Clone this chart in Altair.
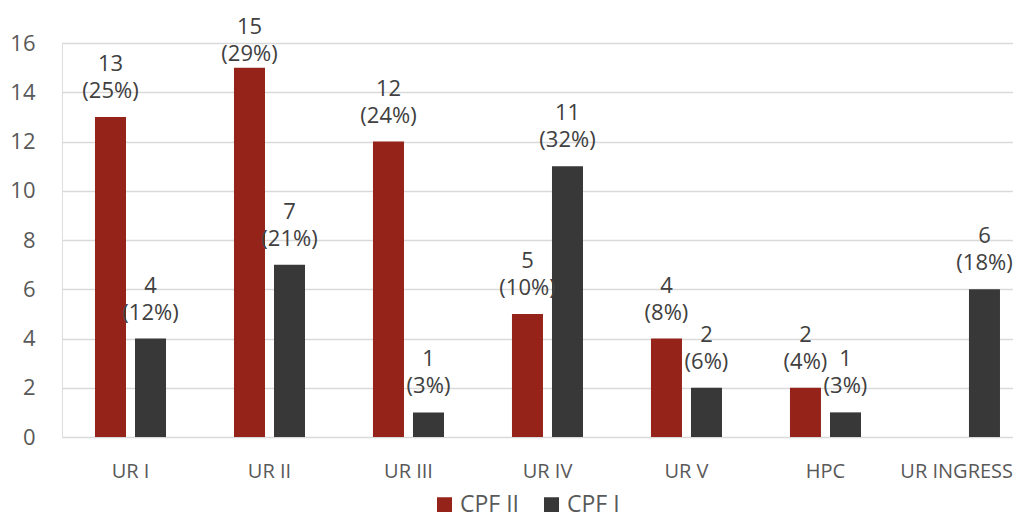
import altair as alt
import pandas as pd

categories = ["UR I", "UR II", "UR III", "UR IV", "UR V", "HPC", "UR INGRESSO"]
series = ["CPF II", "CPF I"]
cpf2_values = [13, 15, 12, 5, 4, 2, None]
cpf2_pct = [25, 29, 24, 10, 8, 4, None]
cpf1_values = [4, 7, 1, 11, 2, 1, 6]
cpf1_pct = [12, 21, 3, 32, 6, 3, 18]
colors = ["#962319", "#383838"]
y_ticks = [0, 2, 4, 6, 8, 10, 12, 14, 16]
title_text = "Triagem por Unidade Residencial (CPF)"

rows = []
for name, vals, pcts in [("CPF II", cpf2_values, cpf2_pct), ("CPF I", cpf1_values, cpf1_pct)]:
    for c, v, p in zip(categories, vals, pcts):
        if v is not None:
            rows.append({"cat": c, "serie": name, "v": v, "label": f"{v}\n({p}%)"})
df = pd.DataFrame(rows)

x_enc = alt.X("cat:N", sort=categories, title=None,
              scale=alt.Scale(paddingInner=0.489, paddingOuter=0.1655, align=0.717),
              axis=alt.Axis(labelAngle=0, labelFontSize=20, labelColor="#595959",
                            labelPadding=24, ticks=False, domain=False, grid=False))
xo_enc = alt.XOffset("serie:N", sort=series, scale=alt.Scale(paddingInner=0.225, paddingOuter=0))
y_scale = alt.Scale(domain=[0, 16], nice=False)
y_axis = alt.Axis(values=y_ticks, labelFontSize=22, labelColor="#595959",
                  labelPadding=27, ticks=False, domain=False,
                  gridColor="#d9d9d9", gridWidth=1.5)
color_enc = alt.Color("serie:N", sort=series, title=None,
                      scale=alt.Scale(domain=series, range=colors),
                      legend=alt.Legend(orient="none", legendX=371, legendY=450,
                                        direction="horizontal", symbolType="square",
                                        symbolSize=225, symbolStrokeWidth=0,
                                        labelFontSize=23, labelColor="#595959",
                                        columnPadding=20, labelOffset=4))

base = alt.Chart(df).encode(x=x_enc, xOffset=xo_enc)
bars = base.mark_bar().encode(y=alt.Y("v:Q", title=None, scale=y_scale, axis=y_axis),
                              color=color_enc)
# labels kept inside the plot area (as the spreadsheet does)
labels = base.transform_calculate(ly="min(datum.v, 14.5)").mark_text(
    fontSize=22, color="#404040", baseline="alphabetic",
    lineBreak="\n", lineHeight=27, dy=-46
).encode(y=alt.Y("ly:Q", title=None, scale=y_scale, axis=y_axis), text="label:N")

title = alt.Chart(pd.DataFrame({"t": [title_text]})).mark_text(
    fontSize=22, fontWeight="bold", color="#000000", baseline="alphabetic", align="center"
).encode(x=alt.value(438), y=alt.value(-40), text="t:N")

chart = alt.layer(bars, labels, title).properties(
    width=951, height=394,
    autosize=alt.AutoSizeParams(type="none"),
    padding={"left": 54, "top": 35, "right": 0, "bottom": 75},
).configure_view(stroke=None).configure(font="Open Sans")

chart.save("out.html", embed_options={"renderer": "svg", "actions": False})
